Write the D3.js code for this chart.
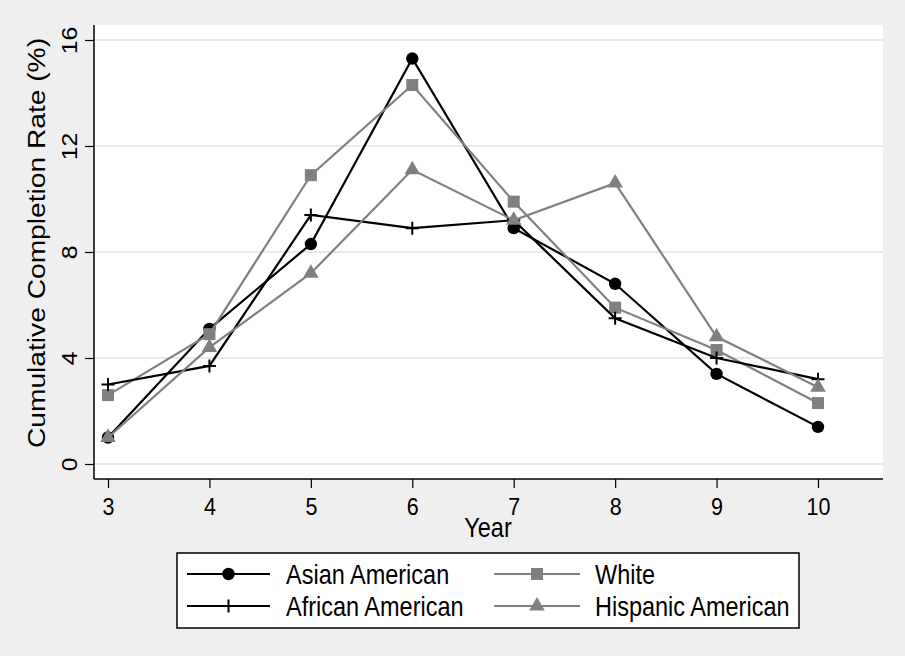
<!DOCTYPE html>
<html>
<head>
<meta charset="utf-8">
<script src="https://cdn.jsdelivr.net/npm/d3@7"></script>
<style>
  html, body { margin: 0; padding: 0; background: #efefef; }
  svg { display: block; }
  text { font-family: "Liberation Sans", Arial, sans-serif; fill: #000; }
</style>
</head>
<body>
<svg id="chart" width="905" height="656"></svg>
<script>
// ---- data ----
const years = [3, 4, 5, 6, 7, 8, 9, 10];
const asianAmerican    = [1.0, 5.1, 8.3, 15.3, 8.9, 6.8, 3.4, 1.4];
const white            = [2.6, 4.9, 10.9, 14.3, 9.9, 5.9, 4.3, 2.3];
const africanAmerican  = [3.0, 3.7, 9.4, 8.9, 9.2, 5.5, 4.0, 3.2];
const hispanicAmerican = [1.0, 4.4, 7.2, 11.1, 9.2, 10.6, 4.8, 2.9];
const yTicks = [0, 4, 8, 12, 16];
const xTicks = [3, 4, 5, 6, 7, 8, 9, 10];
const seriesNames = ["Asian American", "White", "African American", "Hispanic American"];
const yTitle = "Cumulative Completion Rate (%)";
const xTitle = "Year";

const series = [
  { name: seriesNames[0], values: asianAmerican,    color: "#000000", marker: "circle" },
  { name: seriesNames[1], values: white,            color: "#808080", marker: "square" },
  { name: seriesNames[2], values: africanAmerican,  color: "#000000", marker: "plus" },
  { name: seriesNames[3], values: hispanicAmerican, color: "#808080", marker: "triangle" }
];

const SY = 1.15; // vertical stretch of text
const svg = d3.select("#chart");

// background
svg.append("rect").attr("x", 0).attr("y", 0).attr("width", 905).attr("height", 656).attr("fill", "#efefef");

const plot = { left: 94, right: 883, top: 25, bottom: 479 };
svg.append("rect")
  .attr("x", plot.left).attr("y", plot.top)
  .attr("width", plot.right - plot.left).attr("height", plot.bottom - plot.top)
  .attr("fill", "#ffffff");

const x = d3.scaleLinear().domain([3, 10]).range([108, 818]);
const y = d3.scaleLinear().domain([0, 16]).range([464, 40]);

// gridlines
svg.append("g").selectAll("line").data(yTicks).join("line")
  .attr("x1", plot.left).attr("x2", plot.right)
  .attr("y1", d => y(d)).attr("y2", d => y(d))
  .attr("stroke", "#eaeaea").attr("stroke-width", 2);

// y axis
const gy = svg.append("g").attr("transform", `translate(${plot.left},0)`)
  .call(d3.axisLeft(y).tickValues(yTicks).tickSize(9).tickFormat(d3.format("d")));
gy.select(".domain").remove();
gy.selectAll(".tick line").attr("stroke", "#000").attr("stroke-width", 1.2);
gy.selectAll(".tick text")
  .attr("x", null).attr("dy", null)
  .attr("text-anchor", "middle")
  .attr("font-size", 21.5)
  .attr("transform", `translate(-17,0) scale(1,${SY}) rotate(-90)`);
svg.append("line").attr("x1", plot.left).attr("x2", plot.left)
  .attr("y1", plot.top).attr("y2", plot.bottom)
  .attr("stroke", "#000").attr("stroke-width", 1.5);

// x axis
const gx = svg.append("g").attr("transform", `translate(0,${plot.bottom})`)
  .call(d3.axisBottom(x).tickValues(xTicks).tickSize(9).tickFormat(d3.format("d")));
gx.select(".domain").remove();
gx.selectAll(".tick line").attr("stroke", "#000").attr("stroke-width", 1.2);
gx.selectAll(".tick text")
  .attr("y", null).attr("dy", null)
  .attr("text-anchor", "middle")
  .attr("font-size", 21.5)
  .attr("transform", `translate(0,36) scale(1,${SY})`);
svg.append("line").attr("x1", plot.left).attr("x2", plot.right)
  .attr("y1", plot.bottom).attr("y2", plot.bottom)
  .attr("stroke", "#000").attr("stroke-width", 1.5);

// axis titles
svg.append("text")
  .attr("text-anchor", "middle").attr("font-size", 24.5)
  .attr("transform", `translate(45,243) scale(1,${SY}) rotate(-90)`)
  .text(yTitle);
svg.append("text")
  .attr("text-anchor", "middle").attr("font-size", 23.5)
  .attr("transform", `translate(488,537) scale(1,${SY})`)
  .text(xTitle);

// marker drawing
function drawMarker(g, type, color) {
  if (type === "circle") {
    g.append("circle").attr("r", 6.2).attr("fill", color);
  } else if (type === "square") {
    g.append("rect").attr("x", -6).attr("y", -6).attr("width", 12).attr("height", 12).attr("fill", color);
  } else if (type === "triangle") {
    g.append("path").attr("d", d3.symbol(d3.symbolTriangle, 105)()).attr("fill", color);
  } else if (type === "plus") {
    g.append("path").attr("d", "M-6.5,0H6.5M0,-6.5V6.5").attr("stroke", color).attr("stroke-width", 2).attr("fill", "none");
  }
}

const line = d3.line().x((d, i) => x(years[i])).y(d => y(d));
series.forEach(s => {
  const g = svg.append("g");
  g.append("path").datum(s.values)
    .attr("d", line).attr("fill", "none")
    .attr("stroke", s.color).attr("stroke-width", 2.2).attr("stroke-linejoin", "miter");
  s.values.forEach((v, i) => {
    const m = g.append("g").attr("transform", `translate(${x(years[i])},${y(v)})`);
    drawMarker(m, s.marker, s.color);
  });
});

// legend
const lg = svg.append("g");
lg.append("rect").attr("x", 177).attr("y", 553).attr("width", 622).attr("height", 75)
  .attr("fill", "#ffffff").attr("stroke", "#000").attr("stroke-width", 1.5);
const legendPos = [
  { lx1: 187, lx2: 270, tx: 286, ry: 574 },
  { lx1: 494, lx2: 580, tx: 595, ry: 574 },
  { lx1: 187, lx2: 270, tx: 286, ry: 606 },
  { lx1: 494, lx2: 580, tx: 595, ry: 606 }
];
series.forEach((s, i) => {
  const p = legendPos[i];
  lg.append("line").attr("x1", p.lx1).attr("x2", p.lx2).attr("y1", p.ry).attr("y2", p.ry)
    .attr("stroke", s.color).attr("stroke-width", 2.2);
  const m = lg.append("g").attr("transform", `translate(${(p.lx1 + p.lx2) / 2},${p.ry})`);
  drawMarker(m, s.marker, s.color);
  lg.append("text").attr("font-size", 23.5)
    .attr("transform", `translate(${p.tx},${p.ry + 9.5}) scale(1,${SY})`)
    .text(s.name);
});
</script>
</body>
</html>
